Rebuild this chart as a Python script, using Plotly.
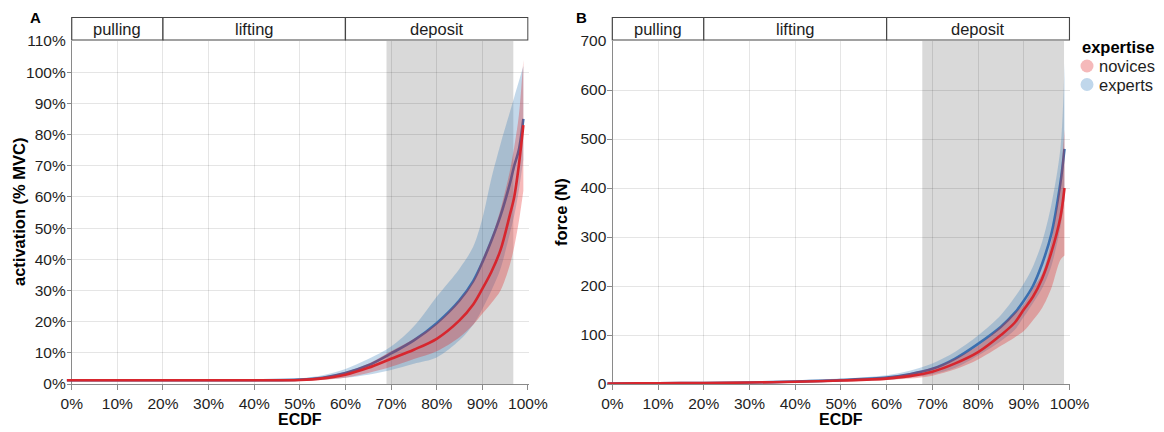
import plotly.graph_objects as go

# ---- data -------------------------------------------------------------
phases = ["pulling", "lifting", "deposit"]
phase_edges = [0.0, 0.2, 0.6, 1.0]

# muscle activation (% MVC) along the ECDF
ecdf_act = [-0.011, 0.0, 0.1, 0.2, 0.3, 0.4, 0.5, 0.55, 0.6, 0.65, 0.7, 0.75,
            0.8, 0.85, 0.88, 0.9, 0.92, 0.94, 0.96, 0.97, 0.98, 0.99]
act_novices = [1.2, 1.2, 1.2, 1.2, 1.2, 1.2, 1.3, 1.8, 3.0, 5.2, 8.1, 11.0,
               14.5, 20.4, 25.5, 30.5, 36.0, 43.0, 54.0, 60.0, 70.0, 83.0]
act_novices_lo = [0.9, 0.9, 0.9, 0.9, 0.9, 0.9, 1.0, 1.3, 2.0, 3.5, 5.5, 8.0,
                  10.5, 15.0, 19.0, 22.5, 26.0, 30.0, 38.0, 44.0, 52.0, 62.0]
act_novices_hi = [1.5, 1.5, 1.5, 1.5, 1.5, 1.5, 1.6, 2.3, 3.9, 6.5, 10.5, 14.5,
                  19.5, 27.0, 33.0, 40.0, 47.0, 56.0, 68.0, 76.0, 86.0, 104.0]
act_experts = [1.2, 1.2, 1.2, 1.2, 1.2, 1.2, 1.4, 2.0, 3.5, 6.0, 9.8, 14.0,
               19.5, 26.8, 33.0, 39.0, 46.0, 54.0, 64.0, 70.0, 75.0, 85.0]
act_experts_lo = [0.9, 0.9, 0.9, 0.9, 0.9, 0.9, 1.1, 1.4, 2.0, 3.0, 4.5, 6.5,
                  8.5, 14.0, 19.0, 24.0, 30.0, 37.0, 48.0, 54.0, 62.0, 72.0]
act_experts_hi = [1.5, 1.5, 1.5, 1.5, 1.5, 1.5, 1.8, 2.8, 4.8, 8.0, 12.0, 18.5,
                  28.0, 37.0, 44.0, 53.0, 66.0, 77.0, 87.0, 92.0, 97.0, 102.0]

# hand force (N) along the ECDF
ecdf_force = [-0.011, 0.0, 0.1, 0.2, 0.3, 0.4, 0.5, 0.6, 0.65, 0.7, 0.75, 0.8,
              0.85, 0.88, 0.9, 0.92, 0.94, 0.96, 0.98, 0.989]
force_novices = [1, 1, 1.5, 2, 3, 4.5, 7, 11, 16, 25, 42, 65,
                 100, 125, 152, 178, 215, 268, 340, 400]
force_novices_lo = [0.5, 0.5, 1, 1.5, 2, 3, 5, 8, 11, 17, 30, 50,
                    78, 95, 108, 130, 155, 195, 253, 262]
force_novices_hi = [1.5, 1.5, 2, 2.5, 4, 6, 9, 15, 22, 33, 52, 78,
                    118, 145, 163, 195, 225, 290, 420, 520]
force_experts = [1, 1, 1.5, 2, 3, 5, 8, 13, 20, 31, 52, 82,
                 117, 145, 170, 200, 245, 305, 410, 480]
force_experts_lo = [0.5, 0.5, 1, 1.5, 2, 3.5, 5, 8.5, 13, 20, 33, 58,
                    88, 110, 137, 165, 195, 240, 320, 375]
force_experts_hi = [1.5, 1.5, 2, 3, 4.5, 7, 11, 18, 27, 42, 66, 99,
                    141, 177, 205, 240, 290, 365, 480, 655]

# shaded deposit window per panel
shade_act = [0.69, 0.968]
shade_force = [0.678, 0.988]

x_ticks = [i / 10 for i in range(11)]
x_ticktext = [f"{i * 10}%" for i in range(11)]
act_ticks = list(range(0, 111, 10))
act_ticktext = [f"{v}%" for v in act_ticks]
force_ticks = list(range(0, 701, 100))
force_ticktext = [str(v) for v in force_ticks]

groups = ["novices", "experts"]
line_color = {"novices": "#d7262e", "experts": "#3a6fb0"}
band_color = {"novices": "rgba(228,26,28,0.30)", "experts": "rgba(55,126,184,0.30)"}
legend_dot = {"novices": "#f5b9ba", "experts": "#c0d7eb"}

# ---- figure -----------------------------------------------------------
W, H = 1164, 432
FONT = "Liberation Sans, Arial, Helvetica, sans-serif"
TXT = "#1e1e1e"
AX = "#8a8a8a"
GRID = "rgba(0,0,0,0.10)"


def fx(p):
    """pixel x -> paper fraction"""
    return p / W


def fy(p):
    """pixel y (from top) -> paper fraction"""
    return 1 - p / H


fig = go.Figure()
SPL = dict(shape="spline", smoothing=0.9)


def add_panel(xa, ya, xs, series):
    # band + line for experts first, novices drawn on top
    for g in ["experts", "novices"]:
        mid, lo, hi = series[g]
        fig.add_trace(go.Scatter(
            x=xs, y=lo, mode="lines", line=dict(width=0, **SPL),
            hoverinfo="skip", showlegend=False, xaxis=xa, yaxis=ya))
        fig.add_trace(go.Scatter(
            x=xs, y=hi, mode="lines", line=dict(width=0, **SPL),
            fill="tonexty", fillcolor=band_color[g],
            hoverinfo="skip", showlegend=False, xaxis=xa, yaxis=ya))
        fig.add_trace(go.Scatter(
            x=xs, y=mid, mode="lines", name=g,
            line=dict(color=line_color[g], width=2.6, **SPL),
            showlegend=False, xaxis=xa, yaxis=ya))


add_panel("x", "y", ecdf_act, {
    "novices": (act_novices, act_novices_lo, act_novices_hi),
    "experts": (act_experts, act_experts_lo, act_experts_hi)})
add_panel("x2", "y2", ecdf_force, {
    "novices": (force_novices, force_novices_lo, force_novices_hi),
    "experts": (force_experts, force_experts_lo, force_experts_hi)})

tick_font = dict(family=FONT, size=15.5, color=TXT)
y_dom = [fy(384), fy(41)]
xa_common = dict(
    range=[-0.011, 1.0015], tickvals=x_ticks, ticktext=x_ticktext,
    showgrid=True, gridcolor=GRID, gridwidth=1,
    zeroline=True, zerolinecolor=AX, zerolinewidth=1,
    showline=True, linecolor=AX, linewidth=1,
    ticks="outside", ticklen=5, tickcolor=AX,
    tickfont=tick_font, automargin=False, fixedrange=True)
ya_common = dict(
    showgrid=True, gridcolor=GRID, gridwidth=1, zeroline=False,
    showline=False, ticks="inside", ticklen=5, tickcolor=AX,
    tickfont=tick_font, automargin=False, fixedrange=True)

fig.update_layout(
    width=W, height=H, margin=dict(l=0, r=0, t=0, b=0),
    paper_bgcolor="white", plot_bgcolor="white", showlegend=False,
    font=dict(family=FONT, color=TXT),
    xaxis=dict(domain=[fx(66.7), fx(528.6)], anchor="y", **xa_common),
    yaxis=dict(domain=y_dom, anchor="x", range=[0, 110],
               tickvals=act_ticks, ticktext=act_ticktext, **ya_common),
    xaxis2=dict(domain=[fx(607.3), fx(1070.2)], anchor="y2", **xa_common),
    yaxis2=dict(domain=y_dom, anchor="x2", range=[0, 700],
                tickvals=force_ticks, ticktext=force_ticktext, **ya_common),
)

shapes = []
annotations = []
strip_y0, strip_y1 = fy(40), fy(17.5)
for xr, yr, shade in [("x", "y", shade_act), ("x2", "y2", shade_force)]:
    shapes.append(dict(type="rect", xref=xr, yref=f"{yr} domain",
                       x0=shade[0], x1=shade[1], y0=0, y1=1,
                       fillcolor="#d9d9d9", line=dict(width=0), layer="below"))
    for i, name in enumerate(phases):
        shapes.append(dict(type="rect", xref=xr, yref="paper",
                           x0=phase_edges[i], x1=phase_edges[i + 1],
                           y0=strip_y0, y1=strip_y1, fillcolor="white",
                           line=dict(color="#454545", width=1.2), layer="above"))
        annotations.append(dict(
            xref=xr, yref="paper",
            x=(phase_edges[i] + phase_edges[i + 1]) / 2,
            y=(strip_y0 + strip_y1) / 2, text=name, showarrow=False,
            font=dict(family=FONT, size=16.5, color=TXT),
            xanchor="center", yanchor="middle"))

# panel tags
tag_font = dict(family=FONT, size=15, color="#000")
annotations += [
    dict(xref="paper", yref="paper", x=fx(35), y=fy(17), text="<b>A</b>",
         showarrow=False, font=tag_font, xanchor="center", yanchor="middle"),
    dict(xref="paper", yref="paper", x=fx(581), y=fy(17), text="<b>B</b>",
         showarrow=False, font=tag_font, xanchor="center", yanchor="middle"),
]

# axis titles
title_font = dict(family=FONT, size=16, color="#000")
ytitle_font = dict(family=FONT, size=16.5, color="#000")
annotations += [
    dict(xref="paper", yref="paper", x=fx(300), y=fy(419), text="<b>ECDF</b>",
         showarrow=False, font=title_font, xanchor="center", yanchor="middle"),
    dict(xref="paper", yref="paper", x=fx(841), y=fy(419), text="<b>ECDF</b>",
         showarrow=False, font=title_font, xanchor="center", yanchor="middle"),
    dict(xref="paper", yref="paper", x=fx(19), y=fy(212), textangle=-90,
         text="<b>activation (% MVC)</b>", showarrow=False, font=ytitle_font,
         xanchor="center", yanchor="middle"),
    dict(xref="paper", yref="paper", x=fx(561), y=fy(212), textangle=-90,
         text="<b>force (N)</b>", showarrow=False, font=ytitle_font,
         xanchor="center", yanchor="middle"),
]

# legend
annotations.append(dict(xref="paper", yref="paper", x=fx(1080), y=fy(47),
                        text="<b>expertise</b>", showarrow=False,
                        font=dict(family=FONT, size=16.5, color="#000"),
                        xanchor="left", yanchor="middle"))
for i, g in enumerate(groups):
    cy = 66 + i * 18.5
    shapes.append(dict(type="circle", xref="paper", yref="paper",
                       x0=fx(1080.5), x1=fx(1093.5),
                       y0=fy(cy + 6.5), y1=fy(cy - 6.5),
                       fillcolor=legend_dot[g], line=dict(width=0)))
    annotations.append(dict(xref="paper", yref="paper", x=fx(1097), y=fy(cy),
                            text=g, showarrow=False,
                            font=dict(family=FONT, size=16.5, color=TXT),
                            xanchor="left", yanchor="middle"))

fig.update_layout(shapes=shapes, annotations=annotations)
fig.write_html("out.html")
